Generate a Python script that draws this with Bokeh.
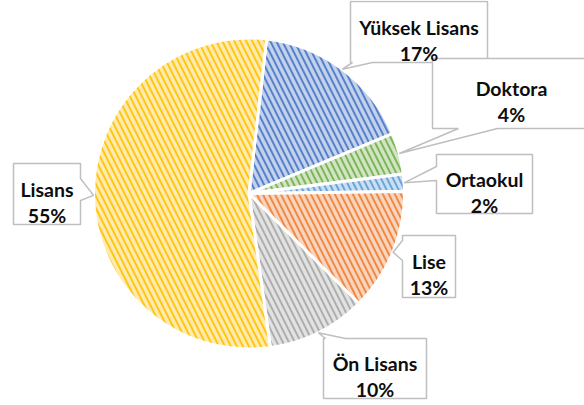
import math
from bokeh.plotting import figure
from bokeh.models import Range1d, ColumnDataSource
from bokeh.core.properties import value
from bokeh.embed import file_html
from bokeh.resources import INLINE

# ---- data ----
categories = ["Yüksek Lisans", "Doktora", "Ortaokul", "Lise", "Ön Lisans", "Lisans"]
shares = [16.9, 4.3, 1.8, 12.7, 10.3, 54.0]
pct_labels = ["17%", "4%", "2%", "13%", "10%", "55%"]
colors = ["#4472C4", "#70AD47", "#5B9BD5", "#ED7D31", "#A5A5A5", "#FFC000"]

# ---- layout (page pixel space, y downward converted below) ----
W, H = 584, 405
CX, CY, R = 248.5, 193.0, 155.5       # pie centre / radius in px
FIRST_ANGLE = 6.5                      # degrees clockwise from 12 o'clock

def Y(py):
    return H - py

def tint(hex_color, f):
    h = hex_color.lstrip("#")
    r, g, b = (int(h[i:i + 2], 16) for i in (0, 2, 4))
    r = round(r + (255 - r) * f); g = round(g + (255 - g) * f); b = round(b + (255 - b) * f)
    return "#%02X%02X%02X" % (r, g, b)

total = sum(shares)
starts, ends, mids = [], [], []
acc = FIRST_ANGLE
for s in shares:
    a0 = acc
    a1 = acc + 360.0 * s / total
    starts.append(math.radians(90 - a1))
    ends.append(math.radians(90 - a0))
    mids.append((a0 + a1) / 2)
    acc = a1

p = figure(width=W, height=H, output_backend="svg", toolbar_location=None,
           x_range=Range1d(0, W), y_range=Range1d(0, H),
           min_border=0)
p.axis.visible = False
p.grid.visible = False
p.outline_line_color = None
p.background_fill_color = "white"
p.border_fill_color = "white"

src = ColumnDataSource(dict(
    start=starts, end=ends, color=colors,
    light=[tint(c, 0.68) for c in colors],
))
p.wedge(x=CX, y=Y(CY), radius=R, start_angle="start", end_angle="end",
        source=src, fill_color="light", hatch_pattern="\\", hatch_color="color",
        hatch_scale=12, hatch_weight=2.0, hatch_alpha=0.85,
        line_color="white", line_width=3)

# ---- callouts: box (left, top, right, bottom), pointer side and base ----
boxes = [
    (350, 1, 487, 62, "bottom", (352, 372)),
    (432, 58, 592, 128, "bottom", (458, 497)),
    (436, 154, 532, 213, "left", (166, 180)),
    (402, 235, 455, 297, "left", (240, 260)),
    (323, 338, 426, 398, "top", (325, 345)),
    (13, 163, 80, 224, "right", (178, 200)),
]

xs_list, ys_list = [], []
for i, (l, t, r, b, side, (u0, u1)) in enumerate(boxes):
    ang = math.radians(mids[i])
    tx = CX + R * math.sin(ang)
    ty = CY - R * math.cos(ang)
    if side == "bottom":
        pts = [(l, t), (r, t), (r, b), (u1, b), (tx, ty), (u0, b), (l, b)]
    elif side == "top":
        pts = [(l, t), (u0, t), (tx, ty), (u1, t), (r, t), (r, b), (l, b)]
    elif side == "left":
        pts = [(l, t), (r, t), (r, b), (l, b), (l, u1), (tx, ty), (l, u0)]
    else:
        pts = [(l, t), (r, t), (r, u0), (tx, ty), (r, u1), (r, b), (l, b)]
    xs_list.append([q[0] for q in pts])
    ys_list.append([Y(q[1]) for q in pts])

p.patches(xs=xs_list, ys=ys_list, fill_color="white", line_color="#BFBFBF", line_width=1.5)

name_x, name_y, pct_y = [], [], []
for (l, t, r, b, side, base) in boxes:
    cx = (l + r) / 2
    cy = (t + b) / 2
    name_x.append(cx)
    name_y.append(Y(cy - 5))
    pct_y.append(Y(cy + 21))
# Doktora box runs off the page edge; centre its text on the visible part
name_x[1] = 511

font = value("Lato")
p.text(x=name_x, y=name_y, text=categories, text_font=font, text_font_style="bold",
       text_font_size="19.5px", text_align="center", text_baseline="alphabetic",
       text_color="#0D0D0D")
p.text(x=name_x, y=pct_y, text=pct_labels, text_font=font, text_font_style="bold",
       text_font_size="19.5px", text_align="center", text_baseline="alphabetic",
       text_color="#0D0D0D")

open("out.html", "w").write(file_html(p, INLINE))
